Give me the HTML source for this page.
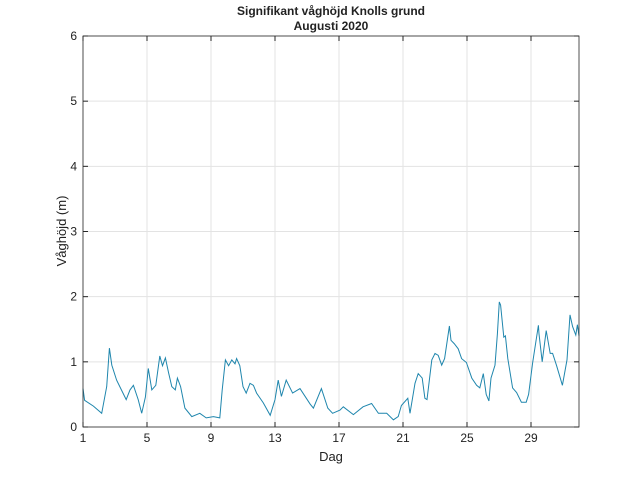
<!DOCTYPE html>
<html><head><meta charset="utf-8"><style>
body{margin:0;background:#fff;width:640px;height:480px;overflow:hidden}
svg{font-family:"Liberation Sans",sans-serif}
</style></head><body>
<svg id="c" width="640" height="480">
<rect width="640" height="480" fill="#fff"/>
<text x="331" y="15" text-anchor="middle" font-size="12" font-weight="bold" fill="#222">Signifikant våghöjd Knolls grund</text>
<text x="331" y="30" text-anchor="middle" font-size="12" font-weight="bold" fill="#222">Augusti 2020</text>
<g id="grid"></g>
<polyline id="line" fill="none" stroke="#1f86ad" stroke-width="1"/>
<rect x="83" y="36" width="496" height="391" fill="none" stroke="#262626" stroke-width="0.8"/>
<g id="ticks"></g>
<text x="331" y="461" text-anchor="middle" font-size="13" fill="#222">Dag</text>
<text transform="translate(66,231) rotate(-90)" text-anchor="middle" font-size="13" fill="#222">Våghöjd (m)</text>
</svg>
<script>
const xTicks=[1,5,9,13,17,21,25,29];
const yTicks=[0,1,2,3,4,5,6];
const days=[1.0,1.1,1.65,2.17,2.48,2.65,2.8,3.1,3.5,3.7,3.94,4.15,4.45,4.67,4.9,5.08,5.3,5.55,5.8,5.97,6.15,6.35,6.55,6.77,6.9,7.1,7.37,7.8,8.3,8.7,9.15,9.55,9.7,9.9,10.1,10.3,10.5,10.6,10.8,11.0,11.2,11.44,11.65,11.85,12.27,12.7,13.0,13.2,13.4,13.7,14.1,14.56,15.2,15.4,15.9,16.3,16.6,17.06,17.27,17.9,18.5,19.04,19.46,19.98,20.4,20.7,20.9,21.3,21.44,21.75,21.95,22.2,22.37,22.5,22.8,23.0,23.2,23.42,23.6,23.9,24.0,24.2,24.45,24.66,24.96,25.3,25.6,25.8,26.02,26.2,26.37,26.5,26.75,26.9,27.02,27.1,27.3,27.4,27.55,27.85,28.1,28.4,28.7,28.85,29.1,29.46,29.5,29.7,29.95,30.2,30.35,30.6,30.96,31.25,31.44,31.6,31.8,31.9,32.0];
const heights=[0.59,0.41,0.32,0.21,0.62,1.21,0.95,0.72,0.52,0.42,0.57,0.64,0.42,0.21,0.46,0.90,0.57,0.64,1.09,0.94,1.06,0.83,0.62,0.57,0.75,0.62,0.29,0.16,0.21,0.14,0.16,0.14,0.57,1.03,0.94,1.03,0.97,1.05,0.94,0.62,0.52,0.67,0.64,0.52,0.37,0.18,0.42,0.72,0.47,0.72,0.52,0.59,0.35,0.29,0.59,0.29,0.21,0.26,0.31,0.19,0.31,0.36,0.21,0.21,0.11,0.16,0.33,0.44,0.21,0.67,0.82,0.75,0.44,0.42,1.03,1.13,1.10,0.95,1.05,1.55,1.33,1.28,1.20,1.05,0.99,0.75,0.64,0.60,0.82,0.50,0.40,0.75,0.95,1.43,1.92,1.87,1.38,1.40,1.05,0.60,0.53,0.38,0.38,0.50,0.98,1.56,1.43,1.00,1.48,1.13,1.13,0.94,0.64,1.03,1.72,1.54,1.41,1.57,1.40];
const L=83,R=579,T=36,B=427,X0=1,X1=32,Y0=0,Y1=6;
const sx=d=>L+(d-X0)/(X1-X0)*(R-L);
const sy=v=>B-(v-Y0)/(Y1-Y0)*(B-T);
const NS="http://www.w3.org/2000/svg";
const grid=document.getElementById('grid'),ticks=document.getElementById('ticks');
function mk(tag,attrs,parent){const e=document.createElementNS(NS,tag);for(const k in attrs)e.setAttribute(k,attrs[k]);parent.appendChild(e);return e;}
xTicks.forEach(t=>{const x=sx(t);
 const g=mk('line',{x1:x,x2:x,y1:T,y2:B,stroke:'#e3e3e3','stroke-width':1},grid);
 
 
 mk('line',{x1:x,x2:x,y1:B,y2:B-5,stroke:'#262626'},ticks);
 mk('line',{x1:x,x2:x,y1:T,y2:T+5,stroke:'#262626'},ticks);
 const tx=mk('text',{x:x,y:B+15,'text-anchor':'middle','font-size':12,fill:'#222'},ticks);
 tx.textContent=t;
 
 
});
yTicks.forEach(t=>{const y=sy(t);
 const g=mk('line',{x1:L,x2:R,y1:y,y2:y,stroke:'#e3e3e3','stroke-width':1},grid);
 
 
 mk('line',{x1:L,x2:L+5,y1:y,y2:y,stroke:'#262626'},ticks);
 mk('line',{x1:R,x2:R-5,y1:y,y2:y,stroke:'#262626'},ticks);
 const tx=mk('text',{x:L-6,y:y+4,'text-anchor':'end','font-size':12,fill:'#222'},ticks);
 tx.textContent=t;
 
 
});
document.getElementById('line').setAttribute('points',days.map((d,i)=>sx(d).toFixed(1)+','+sy(heights[i]).toFixed(1)).join(' '));
</script>
</body></html>
